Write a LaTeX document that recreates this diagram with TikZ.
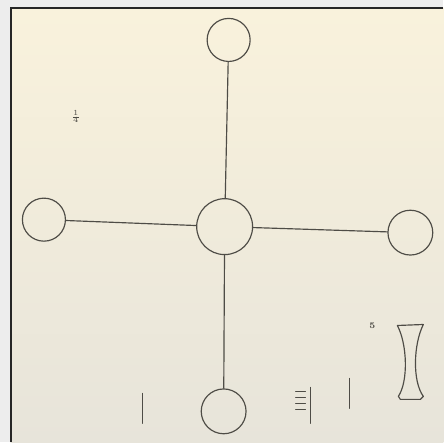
\documentclass[tikz,border=0pt]{standalone}
\usepackage{tikz}
\usetikzlibrary{positioning, calc}

\definecolor{paperTop}{RGB}{249,242,220}
\definecolor{paperBot}{RGB}{231,228,218}
\definecolor{pencil}{RGB}{78,76,70}

\tikzset{
  pen/.style={draw=pencil, line width=0.75pt, line cap=round, line join=round},
  ball/.style={circle, pen, inner sep=0pt, minimum size=#1},
  note/.style={text=pencil, inner sep=0pt}
}

\begin{document}
\begin{tikzpicture}[x=0.0225cm, y=-0.0225cm]

% --- Page and paper (behind everything) ---
\fill[white!93!black] (0,0) rectangle (444,443);
\shade[top color=paperTop, bottom color=paperBot] (11,8) rectangle (444,443);
\draw[black!85, line width=0.9pt] (11,443) -- (11,8) -- (444,8);
\useasboundingbox (0,0) rectangle (444,443);

% --- Circles ---
\node[ball=12.6mm] (hub)   at (225,227) {};
\node[ball=9.7mm]  (north) at (229,40)  {};
\node[ball=9.7mm]  (west)  at (44,220)  {};
\node[ball=10.1mm] (east)  at (411,233) {};
\node[ball=10.1mm] (south) at (224,412) {};

% --- Spokes ---
\draw[pen] (hub) -- (north);
\draw[pen] (hub) -- (west);
\draw[pen] (hub) -- (east);
\draw[pen] (hub) -- (south);

% --- Small marks ---
\node[note, font=\fontsize{3.5}{4}\selectfont] (quarter) at (76,117) {$\frac{1}{4}$};
\node[note, font=\fontsize{5.5}{6}\selectfont\bfseries] (five) at (373,326) {5};

\draw[pen] (143,394) -- (143,424);
\draw[pen] (350,379) -- (350,409);

% tally strokes beside a bar
\foreach \y in {392,398,404,410} {
  \draw[pen, line width=0.6pt] (296,\y) -- (306,\y);
}
\draw[pen] (311,388) -- (311,424);

% --- Hourglass ---
\draw[pen] (398,326) -- (424,325)
  .. controls (414,345) and (413,382) .. (424,397)
  -- (421,400) -- (401,400) -- (399,397)
  .. controls (409,382) and (408,345) .. (398,326) -- cycle;

\end{tikzpicture}
\end{document}
